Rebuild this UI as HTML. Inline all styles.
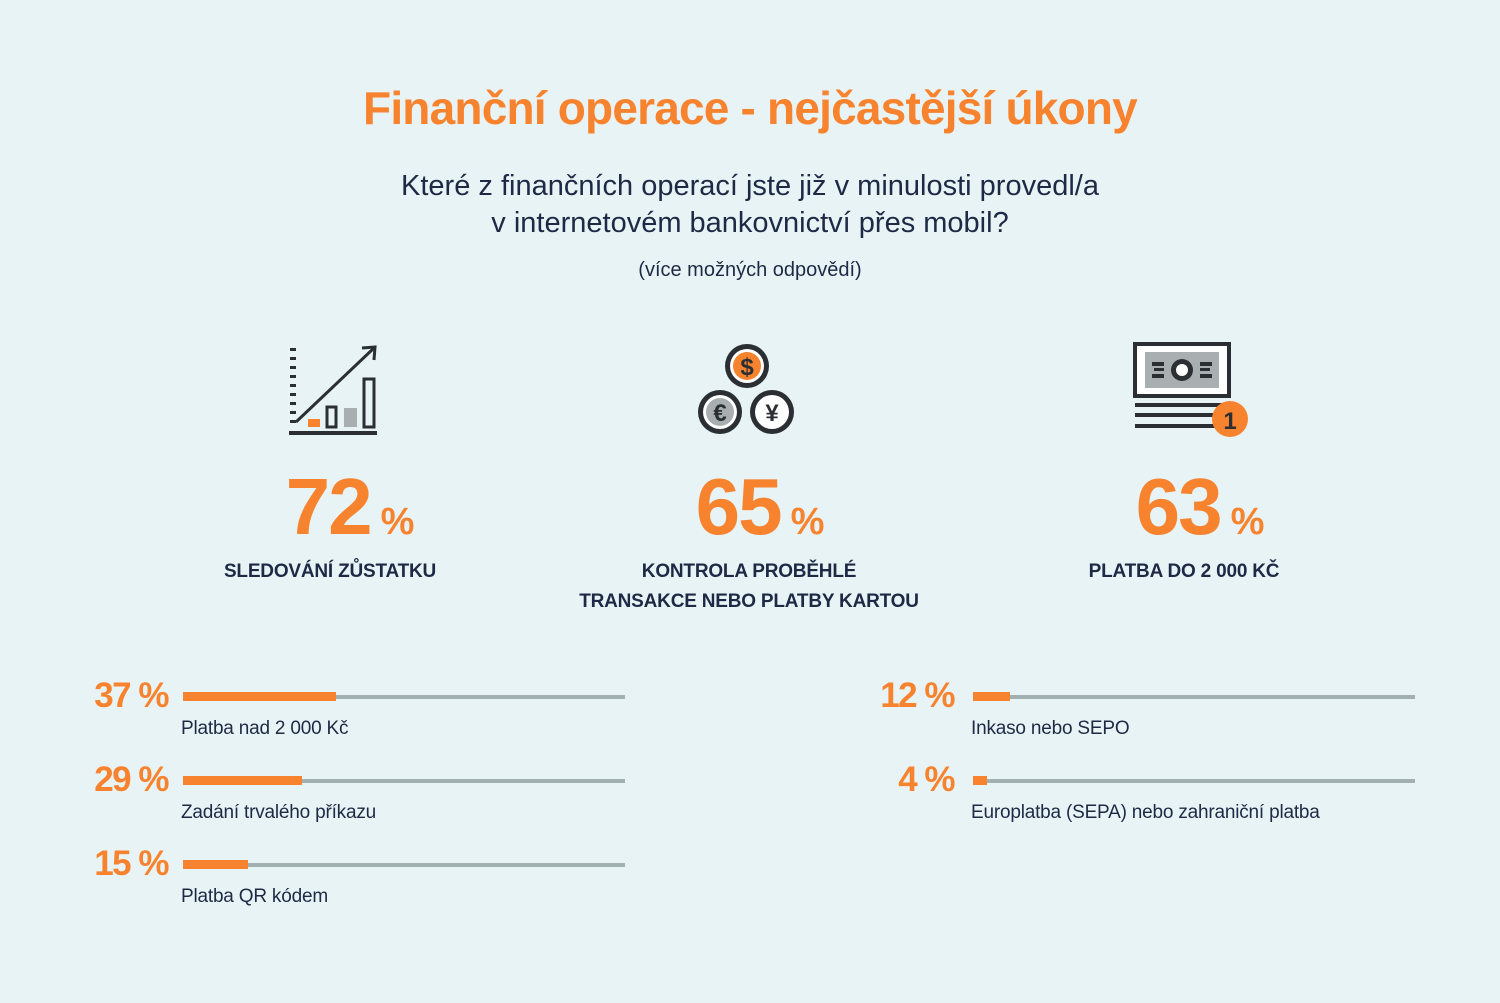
<!DOCTYPE html>
<html><head><meta charset="utf-8"><style>
body{margin:0;width:1500px;height:1003px;background:#e8f3f5;position:relative;overflow:hidden;font-family:"Liberation Sans",sans-serif;color:#1e2a45}
.c{position:absolute;text-align:center;white-space:nowrap}
.or{color:#f7832f}
.big{font-weight:bold;font-size:80px;line-height:80px;letter-spacing:-2px}
.big span{font-size:38px;margin-left:10px;letter-spacing:0}
.lab{font-weight:bold;font-size:19px;line-height:30px;letter-spacing:-0.2px}
.row{position:absolute;height:80px}
.pct{position:absolute;right:0;font-weight:bold;font-size:35px;color:#f7832f;line-height:40px;top:0;letter-spacing:-1.5px}
.track{position:absolute;height:4px;background:#a2b0b2;top:19px}
.fill{position:absolute;height:9px;background:#f7832f;top:16px}
.txt{position:absolute;font-size:19px;top:42px;white-space:nowrap;letter-spacing:-0.2px}
</style></head><body>
<div class="c or" style="left:0;width:1500px;top:78px;font-size:46px;font-weight:bold;line-height:60px;letter-spacing:-0.8px">Finanční operace - nejčastější úkony</div>
<div class="c" style="left:0;width:1500px;top:168px;font-size:29px;line-height:37px">Které z finančních operací jste již v minulosti provedl/a<br>v internetovém bankovnictví přes mobil?</div>
<div class="c" style="left:0;width:1500px;top:256px;font-size:20px;line-height:28px">(více možných odpovědí)</div>

<svg style="position:absolute;left:0;top:0" width="1500" height="460">
<g fill="#2b2f33">
<rect x="290" y="348" width="6" height="3"/><rect x="290" y="357" width="6" height="3"/><rect x="290" y="366" width="6" height="3"/><rect x="290" y="375" width="6" height="3"/><rect x="290" y="384" width="6" height="3"/><rect x="290" y="393" width="6" height="3"/><rect x="290" y="402" width="6" height="3"/><rect x="290" y="411" width="6" height="3"/><rect x="290" y="420" width="6" height="3"/>
<rect x="289" y="431" width="88" height="4"/>
</g>
<line x1="296" y1="422" x2="374" y2="348" stroke="#2b2f33" stroke-width="3"/>
<polyline points="362,348 375,347 374,360" fill="none" stroke="#2b2f33" stroke-width="3"/>
<rect x="308" y="419" width="12" height="8" fill="#f7832f"/>
<rect x="327" y="407" width="9" height="20" fill="none" stroke="#2b2f33" stroke-width="3"/>
<rect x="344" y="408" width="13" height="19" fill="#a9aeb0"/>
<rect x="364" y="379" width="10" height="48" fill="none" stroke="#2b2f33" stroke-width="3"/>
<circle cx="747" cy="366" r="22" fill="#2b2f33"/><circle cx="747" cy="366" r="17" fill="#fff"/><circle cx="747" cy="366" r="14" fill="#f7832f"/>
<text x="747" y="375" font-size="24" font-weight="bold" text-anchor="middle" fill="#2b2f33" font-family="Liberation Sans">$</text>
<circle cx="720" cy="412" r="22" fill="#2b2f33"/><circle cx="720" cy="412" r="17" fill="#fff"/><circle cx="720" cy="412" r="14" fill="#a9aeb0"/>
<text x="720" y="421" font-size="24" font-weight="bold" text-anchor="middle" fill="#2b2f33" font-family="Liberation Sans">€</text>
<circle cx="772" cy="412" r="22" fill="#2b2f33"/><circle cx="772" cy="412" r="17" fill="#fff"/>
<text x="772" y="421" font-size="24" font-weight="bold" text-anchor="middle" fill="#2b2f33" font-family="Liberation Sans">¥</text>
<rect x="1135" y="344" width="94" height="52" fill="#fff" stroke="#2b2f33" stroke-width="4"/>
<rect x="1145" y="352" width="74" height="36" fill="#a9aeb0"/>
<circle cx="1182" cy="370" r="11" fill="#2b2f33"/><circle cx="1182" cy="370" r="6" fill="#fff"/>
<g fill="#2b2f33"><rect x="1152" y="362" width="12" height="4"/><rect x="1152" y="374" width="12" height="4"/><rect x="1200" y="362" width="12" height="4"/><rect x="1200" y="374" width="12" height="4"/><rect x="1154" y="368" width="10" height="3"/><rect x="1200" y="368" width="10" height="3"/>
<rect x="1135" y="403" width="90" height="4"/><rect x="1135" y="413" width="90" height="4"/><rect x="1135" y="424" width="90" height="4"/></g>
<circle cx="1230" cy="419" r="18" fill="#f7832f"/>
<text x="1230" y="429" font-size="24" font-weight="bold" text-anchor="middle" fill="#2b2f33" font-family="Liberation Sans">1</text>
</svg>

<div class="c big or" style="left:230px;width:240px;top:467px">72<span>%</span></div>
<div class="c big or" style="left:640px;width:240px;top:467px">65<span>%</span></div>
<div class="c big or" style="left:1080px;width:240px;top:467px">63<span>%</span></div>
<div class="c lab" style="left:130px;width:400px;top:557px">SLEDOVÁNÍ ZŮSTATKU</div>
<div class="c lab" style="left:549px;width:400px;top:557px">KONTROLA PROBĚHLÉ<br>TRANSAKCE NEBO PLATBY KARTOU</div>
<div class="c lab" style="left:984px;width:400px;top:557px">PLATBA DO 2 000 KČ</div>

<div class="row" style="left:0;top:676px;width:1500px"><div class="pct" style="right:1332px">37 %</div><div class="track" style="left:183px;width:442px"></div><div class="fill" style="left:183px;width:153px"></div><div class="txt" style="left:181px">Platba nad 2 000 Kč</div></div>
<div class="row" style="left:0;top:760px;width:1500px"><div class="pct" style="right:1332px">29 %</div><div class="track" style="left:183px;width:442px"></div><div class="fill" style="left:183px;width:119px"></div><div class="txt" style="left:181px">Zadání trvalého příkazu</div></div>
<div class="row" style="left:0;top:844px;width:1500px"><div class="pct" style="right:1332px">15 %</div><div class="track" style="left:183px;width:442px"></div><div class="fill" style="left:183px;width:65px"></div><div class="txt" style="left:181px">Platba QR kódem</div></div>
<div class="row" style="left:0;top:676px;width:1500px"><div class="pct" style="right:546px">12 %</div><div class="track" style="left:973px;width:442px"></div><div class="fill" style="left:973px;width:37px"></div><div class="txt" style="left:971px">Inkaso nebo SEPO</div></div>
<div class="row" style="left:0;top:760px;width:1500px"><div class="pct" style="right:546px">4 %</div><div class="track" style="left:973px;width:442px"></div><div class="fill" style="left:973px;width:14px"></div><div class="txt" style="left:971px">Europlatba (SEPA) nebo zahraniční platba</div></div>
</body></html>
